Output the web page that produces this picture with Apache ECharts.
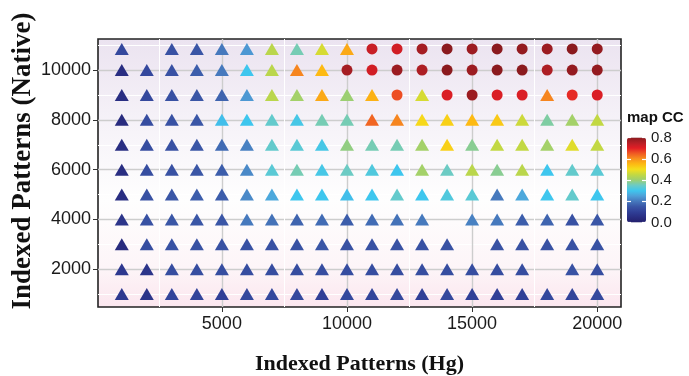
<!DOCTYPE html>
<html>
<head>
<meta charset="utf-8">
<script src="https://cdn.jsdelivr.net/npm/echarts@6/dist/echarts.min.js"></script>
<style>
html,body{margin:0;padding:0;background:#ffffff;}
#chart{width:689px;height:376px;}
</style>
</head>
<body>
<div id="chart"></div>
<script>
// ---- data ----
const xValues = [1000,2000,3000,4000,5000,6000,7000,8000,9000,10000,11000,12000,13000,14000,15000,16000,17000,18000,19000,20000];
const yValues = [1000,2000,3000,4000,5000,6000,7000,8000,9000,10000,10850];
// map CC per row (index matches xValues); null = no point
const cc_y1000  = [0.08,0.07,0.11,0.11,0.10,0.12,0.12,0.12,0.10,0.12,0.11,0.12,0.10,0.12,0.10,0.10,0.10,0.12,0.11,0.12];
const cc_y2000  = [0.08,0.07,0.13,0.13,0.13,0.13,0.13,0.13,0.13,0.13,0.13,0.13,0.13,0.13,0.13,0.13,0.13,null,0.14,0.13];
const cc_y3000  = [0.04,0.13,0.14,0.14,0.14,0.14,0.14,0.14,0.15,0.14,0.14,0.14,0.14,0.14,null,0.14,0.14,0.14,0.14,0.14];
const cc_y4000  = [0.07,0.14,0.15,0.15,0.15,0.20,0.19,0.17,0.18,0.16,0.18,0.19,0.20,null,0.21,0.20,0.16,0.17,0.14,0.15];
const cc_y5000  = [0.05,0.14,0.15,0.16,0.16,0.22,0.26,0.30,0.30,0.29,0.30,0.34,0.30,0.32,0.33,0.20,0.26,0.30,0.34,0.30];
const cc_y6000  = [0.05,0.13,0.14,0.15,0.16,0.22,0.33,0.36,0.31,0.35,0.32,0.30,0.41,0.35,0.44,0.38,0.44,0.30,0.34,0.33];
const cc_y7000  = [0.05,0.13,0.14,0.15,0.18,0.21,0.34,0.33,0.31,0.39,0.36,0.36,0.41,0.52,0.38,0.45,0.45,0.41,0.48,0.45];
const cc_y8000  = [0.04,0.13,0.14,0.15,0.29,0.30,0.34,0.31,0.36,0.36,0.64,0.61,0.51,0.52,0.55,0.53,0.46,0.37,0.41,0.45];
const cc_y9000  = [0.05,0.12,0.14,0.15,0.17,0.24,0.44,0.41,0.57,0.40,0.56,0.66,0.47,0.71,0.78,0.71,0.71,0.61,0.69,0.71];
const cc_y10000 = [0.05,0.12,0.14,0.16,0.20,0.30,0.44,0.61,0.55,0.77,0.72,0.78,0.76,0.80,0.78,0.80,0.80,0.76,0.79,0.79];
const cc_y10850 = [0.12,null,0.14,0.15,0.20,0.24,0.44,0.36,0.47,0.57,0.73,0.72,0.77,0.80,0.78,0.80,0.79,0.78,0.80,0.79];
const ccRows = [cc_y1000,cc_y2000,cc_y3000,cc_y4000,cc_y5000,cc_y6000,cc_y7000,cc_y8000,cc_y9000,cc_y10000,cc_y10850];
const xTicks = [5000,10000,15000,20000];
const yTicks = [2000,4000,6000,8000,10000];
const xMinor = [2500,7500,12500,17500];
const yMinor = [1000,3000,5000,7000,9000,11000];
const circleFrom = 0.65; // values at/above drawn as circles

// ---- build series data ----
const triData = [], circData = [];
yValues.forEach((y, r) => {
  ccRows[r].forEach((v, c) => {
    if (v === null) return;
    (v >= circleFrom ? circData : triData).push([xValues[c], y, v]);
  });
});

const chart = echarts.init(document.getElementById('chart'));
const tickFont = {fontFamily:'Liberation Sans, Arial, sans-serif', fontSize:18, color:'#1a1a1a'};
const titleFont = {fontFamily:'Liberation Serif, Times New Roman, serif', fontSize:22, fontWeight:'bold', color:'#111'};
const plain = v => String(Math.round(v));

chart.setOption({
  animation:false,
  title:{text:'map CC', left:627, top:110, padding:0,
    textStyle:{fontFamily:'Liberation Sans, Arial, sans-serif', fontSize:15, fontWeight:'bold', color:'#111'}},
  graphic:[
    {type:'text', x:23, y:161, rotation:Math.PI/2, z:10,
     style:{text:'Indexed Patterns (Native)', align:'center', verticalAlign:'middle',
       font:'bold 27px "Liberation Serif", "Times New Roman", serif', fill:'#111'}}
  ],
  grid:[
    {left:98, right:68, top:39, bottom:69, show:true, outerBoundsMode:'none', containLabel:false,
     borderColor:'#222', borderWidth:1.6,
     backgroundColor:{type:'linear', x:0, y:0, x2:0, y2:1, colorStops:[
       {offset:0, color:'#ebe3f0'}, {offset:0.35, color:'#f7f4f9'},
       {offset:0.6, color:'#fefefe'}, {offset:0.85, color:'#fdf5f8'}, {offset:1, color:'#fbe6ee'}]}},
    {left:627, top:137.5, width:19, height:85, outerBoundsMode:'none', containLabel:false}
  ],
  xAxis:[
    {type:'value', gridIndex:0, min:50, max:20950, position:'top',
     axisLine:{show:false}, axisTick:{show:false, customValues:xMinor}, axisLabel:{show:false, customValues:xMinor},
     splitLine:{show:true, lineStyle:{color:'#ffffff', width:1}}},
    {type:'value', gridIndex:0, min:50, max:20950, position:'bottom',
     name:'Indexed Patterns (Hg)', nameLocation:'middle', nameGap:46, nameTextStyle:titleFont,
     axisLine:{show:false},
     axisTick:{show:true, length:5, customValues:xTicks, lineStyle:{color:'#333', width:1}},
     axisLabel:Object.assign({margin:8, customValues:xTicks, formatter:plain}, tickFont),
     splitLine:{show:true, lineStyle:{color:'#cdcdcd', width:1.4}}},
    {type:'value', gridIndex:1, show:false, min:0, max:1}
  ],
  yAxis:[
    {type:'value', gridIndex:0, min:480, max:11250, position:'right',
     axisLine:{show:false}, axisTick:{show:false, customValues:yMinor}, axisLabel:{show:false, customValues:yMinor},
     splitLine:{show:true, lineStyle:{color:'#ffffff', width:1}}},
    {type:'value', gridIndex:0, min:480, max:11250, position:'left',
     axisLine:{show:false},
     axisTick:{show:true, length:5, customValues:yTicks, lineStyle:{color:'#333', width:1}},
     axisLabel:Object.assign({margin:7, customValues:yTicks, formatter:plain}, tickFont),
     splitLine:{show:true, lineStyle:{color:'#cdcdcd', width:1.4}}},
    {type:'value', gridIndex:1, min:0, max:0.8, interval:0.2, position:'left', z:10,
     axisLine:{show:false}, axisLabel:{show:false}, splitLine:{show:false},
     axisTick:{show:true, inside:true, length:4, lineStyle:{color:'#ffffff', width:1.2}}},
    {type:'value', gridIndex:1, min:0, max:0.8, interval:0.2, position:'right', z:10,
     axisLine:{show:false}, splitLine:{show:false},
     axisTick:{show:true, inside:true, length:4, lineStyle:{color:'#ffffff', width:1.2}},
     axisLabel:{margin:5, fontFamily:'Liberation Sans, Arial, sans-serif', fontSize:15, color:'#1a1a1a',
       formatter:v => v.toFixed(1)}}
  ],
  visualMap:{
    type:'continuous', min:0, max:0.8, dimension:2, seriesIndex:[0,1],
    calculable:false, hoverLink:false, orient:'vertical', left:627, top:137.5, padding:0,
    itemWidth:19, itemHeight:85, text:null, z:2,
    inRange:{color:['#231f6c','#292e82','#303f97','#3a56a6','#4679bd','#4fa0d8','#3ec6ee',
      '#6ccbc4','#9ccf72','#c2d843','#f4df1c','#fdba13','#f7901e','#f05a23','#e31e25','#b61f26','#8b1a1e']}
  },
  series:[
    {type:'scatter', name:'tri', xAxisIndex:1, yAxisIndex:1, symbol:'triangle', symbolSize:[14,12],
     data:triData, itemStyle:{opacity:1}},
    {type:'scatter', name:'circ', xAxisIndex:1, yAxisIndex:1, symbol:'circle', symbolSize:11,
     data:circData, itemStyle:{opacity:1}}
  ]
});
</script>
</body>
</html>
